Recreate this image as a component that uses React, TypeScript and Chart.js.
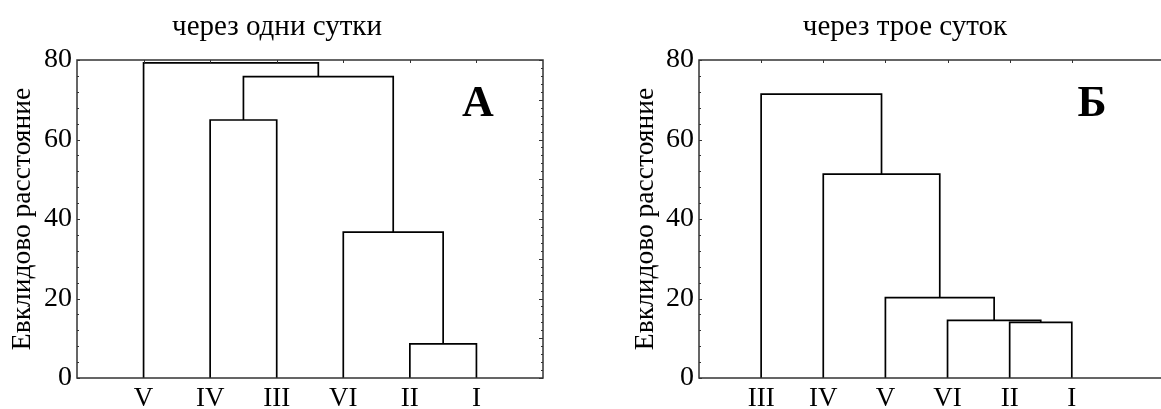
import React, { useEffect, useRef } from "react";
import { Chart, registerables } from "chart.js";

Chart.register(...registerables);

// ---------- data ----------
const leavesA = ["V", "IV", "III", "VI", "II", "I"];
const joinsA: [number, number][] = [[4, 5], [3, 6], [1, 2], [8, 7], [0, 9]];
const heightsA = [8.6, 36.7, 64.9, 75.8, 79.3];

const leavesB = ["III", "IV", "V", "VI", "II", "I"];
const joinsB: [number, number][] = [[4, 5], [3, 6], [2, 7], [1, 8], [0, 9]];
const heightsB = [14.0, 14.5, 20.2, 51.3, 71.4];

const titleA = "через одни сутки";
const titleB = "через трое суток";
const yTitle = "Евклидово расстояние";
const letterA = "А";
const letterB = "Б";
const yMax = 80;
const yStep = 20;

const FONT = '"Liberation Serif", "Times New Roman", serif';

function buildLinks(leaves: string[], joins: [number, number][], heights: number[]) {
  const xs = leaves.map((_, i) => i + 1);
  const hs = leaves.map(() => 0);
  return joins.map(([a, b], k) => {
    const h = heights[k];
    const pts = [
      { x: xs[a], y: hs[a] },
      { x: xs[a], y: h },
      { x: xs[b], y: h },
      { x: xs[b], y: hs[b] },
    ];
    xs.push((xs[a] + xs[b]) / 2);
    hs.push(h);
    return pts;
  });
}

const framePlugin = {
  id: "frame",
  afterDatasetsDraw(chart: any, _args: any, opts: any) {
    const { ctx, chartArea, scales } = chart;
    const { left, right, top, bottom } = chartArea;
    const x = scales.x;
    const y = scales.y;
    ctx.save();
    ctx.strokeStyle = "#333";
    ctx.lineWidth = 1.5;
    ctx.strokeRect(left, top, right - left, bottom - top);
    ctx.lineWidth = 1;
    ctx.beginPath();
    for (let v = 0; v <= yMax; v += 4) {
      const py = Math.round(y.getPixelForValue(v)) + 0.5;
      ctx.moveTo(left, py);
      ctx.lineTo(left + (v % 20 === 0 ? 3 : 2), py);
    }
    for (let v = 0; v <= yMax; v += 2) {
      const py = Math.round(y.getPixelForValue(v)) + 0.5;
      ctx.moveTo(right, py);
      ctx.lineTo(right - (v % 10 === 0 ? 4 : 2), py);
    }
    for (let i = 1; i <= opts.n; i++) {
      const px = Math.round(x.getPixelForValue(i)) + 0.5;
      ctx.moveTo(px, top);
      ctx.lineTo(px, top + 3);
    }
    ctx.stroke();
    ctx.fillStyle = "#000";
    ctx.font = `bold 44px ${FONT}`;
    ctx.textAlign = "center";
    ctx.textBaseline = "alphabetic";
    ctx.fillText(opts.letter, left + opts.letterDx, top + 56);
    ctx.restore();
  },
};

type PanelProps = {
  leaves: string[];
  joins: [number, number][];
  heights: number[];
  title: string;
  letter: string;
  letterDx: number;
  xMax: number;
  left: number;
  padL: number;
  yTitlePad: number;
};

function Panel(p: PanelProps) {
  const ref = useRef<HTMLCanvasElement | null>(null);
  useEffect(() => {
    if (!ref.current) return;
    const links = buildLinks(p.leaves, p.joins, p.heights);
    const chart = new Chart(ref.current, {
      type: "line",
      data: {
        datasets: links.map((pts) => ({
          data: pts,
          borderColor: "#000",
          borderWidth: 1.7,
          pointRadius: 0,
          tension: 0,
          fill: false,
        })),
      },
      options: {
        responsive: false,
        animation: false,
        devicePixelRatio: 1,
        events: [],
        layout: { padding: { left: p.padL, right: 17, top: 0, bottom: 0 } },
        plugins: {
          legend: { display: false },
          tooltip: { enabled: false },
          title: {
            display: true,
            text: p.title,
            color: "#000",
            font: { family: FONT, size: 29, weight: "normal", lineHeight: 1.2 },
            padding: { top: 10, bottom: 15.2 },
          },
          frame: { n: p.leaves.length, letter: p.letter, letterDx: p.letterDx },
        } as any,
        scales: {
          x: {
            type: "linear",
            min: 0,
            max: p.xMax,
            grid: { display: false, drawTicks: false },
            border: { display: false },
            ticks: {
              stepSize: 1,
              autoSkip: false,
              maxRotation: 0,
              padding: 5,
              color: "#000",
              font: { family: FONT, size: 27 },
              callback: (v: any) => {
                const i = Number(v);
                return Number.isInteger(i) && i >= 1 && i <= p.leaves.length ? p.leaves[i - 1] : "";
              },
            },
            afterFit: (s: any) => {
              s.height = 31;
            },
          },
          y: {
            type: "linear",
            min: 0,
            max: yMax,
            grid: { display: false, drawTicks: false },
            border: { display: false },
            ticks: {
              stepSize: yStep,
              padding: 5,
              color: "#000",
              font: { family: FONT, size: 28 },
            },
            title: {
              display: true,
              text: yTitle,
              color: "#000",
              font: { family: FONT, size: 27.5, lineHeight: 1.2 },
              padding: { top: p.yTitlePad, bottom: 0 },
            },
            afterFit: (s: any) => {
              s.width = 77 - p.padL;
            },
          },
        },
      },
      plugins: [framePlugin],
    });
    return () => chart.destroy();
  }, []);
  return (
    <canvas
      ref={ref}
      width={560}
      height={409}
      style={{ position: "absolute", left: p.left, top: 0 }}
    />
  );
}

export default function App() {
  return (
    <div
      style={{
        position: "fixed",
        left: 0,
        top: 0,
        width: 1161,
        height: 409,
        overflow: "hidden",
        background: "#fff",
      }}
    >
      <Panel leaves={leavesA} joins={joinsA} heights={heightsA} title={titleA} letter={letterA} letterDx={401} xMax={7} left={0} padL={11} yTitlePad={-5} />
      <Panel leaves={leavesB} joins={joinsB} heights={heightsB} title={titleB} letter={letterB} letterDx={393} xMax={7.5} left={622} padL={23} yTitlePad={-16} />
    </div>
  );
}
